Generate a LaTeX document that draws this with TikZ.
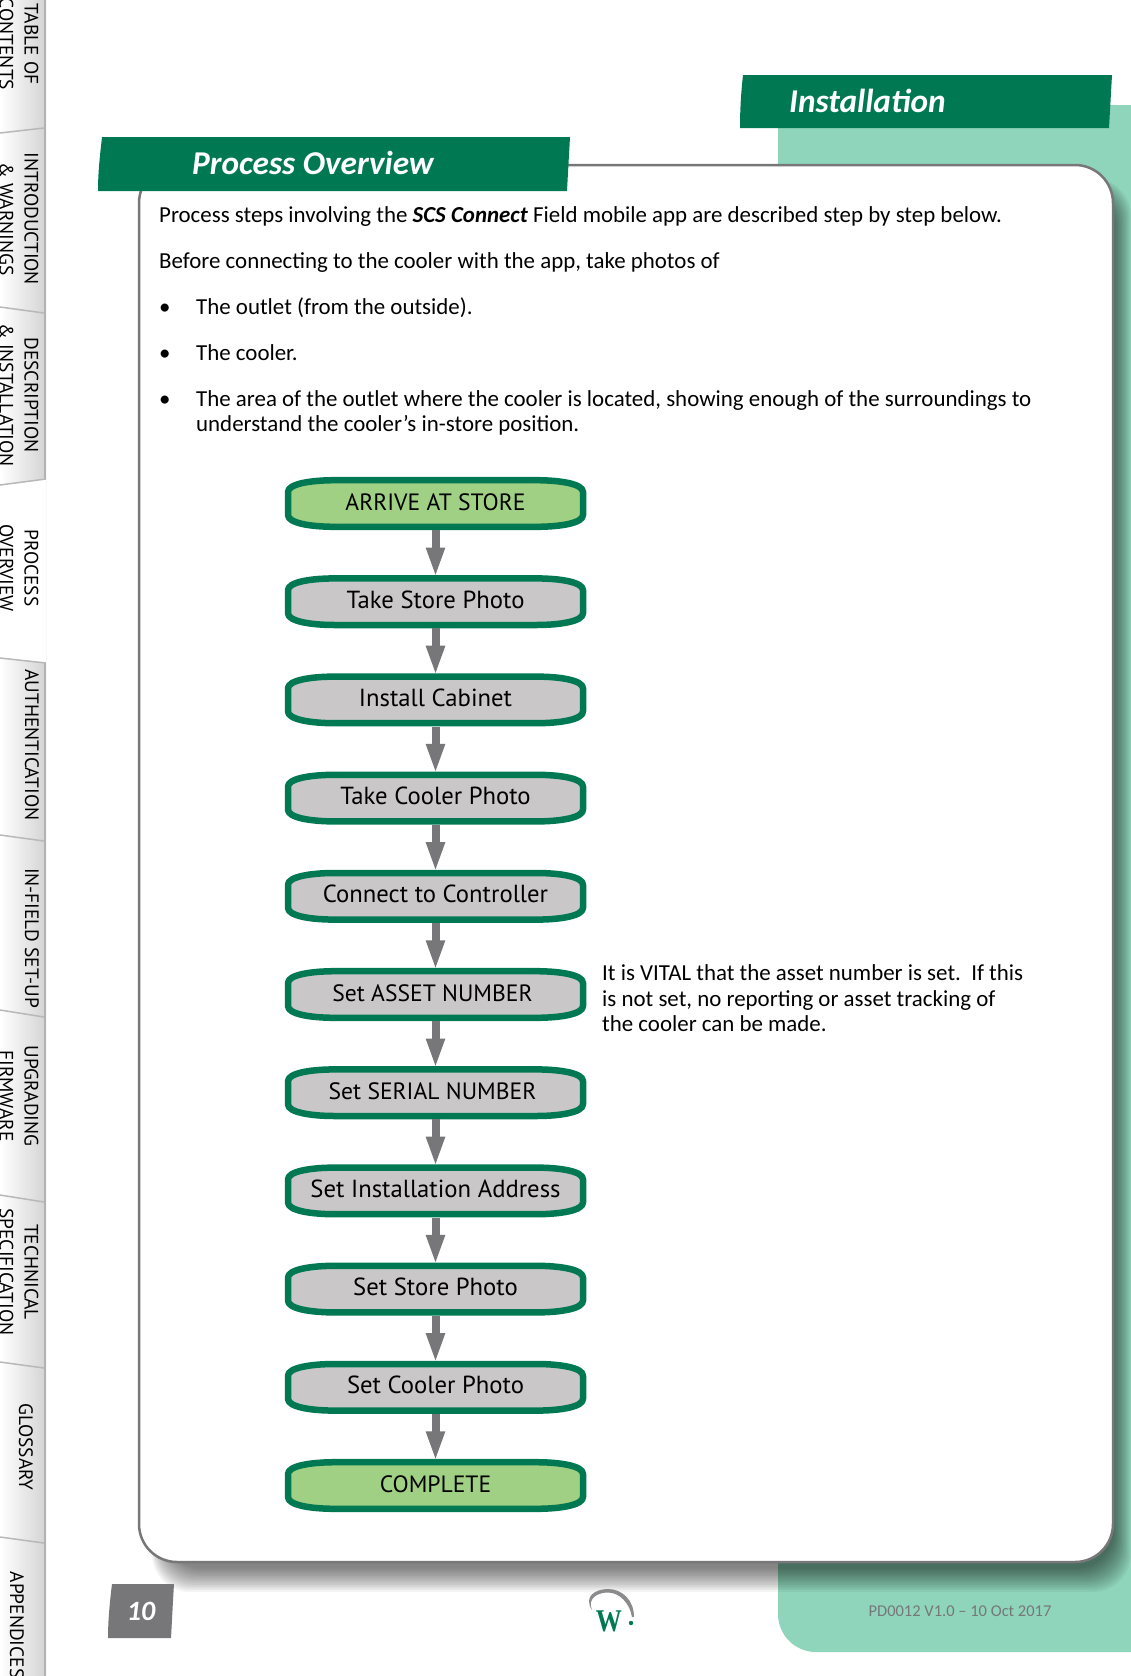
\documentclass[tikz,border=0pt]{standalone}
\usepackage{fontspec}
\setmainfont{Carlito}
\newfontfamily\boxfont{PT Sans}
\usetikzlibrary{arrows.meta}
\definecolor{brandgreen}{HTML}{007953}
\definecolor{mint}{HTML}{8FD5BC}
\definecolor{lightgreen}{HTML}{9FD083}
\definecolor{boxgray}{HTML}{C9C7C8}
\definecolor{linegray}{HTML}{77777A}
\tikzset{
  stepbox/.style={minimum width=301pt,minimum height=53pt,inner sep=0pt,text height=15pt,text depth=2pt,font=\boxfont\fontsize{24.7}{26}\selectfont,text=black},
  capsbox/.style={stepbox,font=\boxfont\fontsize{23.6}{26}\selectfont},
  stepline/.style={draw=brandgreen,line width=6.5pt,line join=round},
  flowarrow/.style={draw=linegray,line width=8pt,shorten >=-2.5pt,-{Triangle[length=30pt,width=17pt]}},
  bodytext/.style={anchor=base west,inner sep=0pt,font=\fontsize{22.9}{26}\selectfont,text=black},
  tabtext/.style={rotate=-90,inner sep=0pt,font=\boxfont\fontsize{19.4}{25}\selectfont,text=black,align=center},
  tabsep/.style={draw=black!28,line width=1.5pt},
}
\newcommand{\stepshape}[2]{% top y, fill
  \path[stepline,fill=#2] (288,#1+15) .. controls (288,#1+7) and (310,#1+3.2) .. (335,#1+3.2)
    -- (536,#1+3.2) .. controls (561,#1+3.2) and (583,#1+7) .. (583,#1+15)
    -- (583,#1+38) .. controls (583,#1+46) and (561,#1+49.8) .. (536,#1+49.8)
    -- (335,#1+49.8) .. controls (310,#1+49.8) and (288,#1+46) .. (288,#1+38) -- cycle;
}
\begin{document}
\begin{tikzpicture}[x=1pt,y=-1pt]
\useasboundingbox (0,0) rectangle (1131,1676);
\fill[white] (0,0) rectangle (1131,1676);
% side strip
\shade[left color=white,right color=black!17] (0,0) rectangle (46,1676);
\fill[white] (0,485) -- (46,479) -- (46,663) -- (0,658) -- cycle;
\draw[black!30,line width=2pt] (45,0) -- (45,479);
\draw[black!30,line width=2pt] (45,663) -- (45,1676);
\draw[tabsep] (0,133) -- (44,128);
\draw[tabsep] (0,307) -- (44,313);
\draw[tabsep] (0,485) -- (46,479);
\draw[tabsep] (0,658) -- (46,663);
\draw[tabsep] (0,835) -- (44,841);
\draw[tabsep] (0,1010) -- (44,1017);
\draw[tabsep] (0,1195) -- (44,1202);
\draw[tabsep] (0,1362) -- (44,1368);
\draw[tabsep] (0,1537) -- (44,1543);
\node[tabtext] (tab1) at (19,44) {TABLE OF\\CONTENTS};
\node[tabtext] (tab2) at (19,219) {INTRODUCTION\\\& WARNINGS};
\node[tabtext] (tab3) at (19,395) {DESCRIPTION\\\& INSTALLATION};
\node[tabtext] (tab4) at (19,568) {PROCESS\\OVERVIEW};
\node[tabtext] (tab5) at (32,745) {AUTHENTICATION};
\node[tabtext] (tab6) at (32,938) {IN-FIELD SET-UP};
\node[tabtext] (tab7) at (19,1096) {UPGRADING\\FIRMWARE};
\node[tabtext] (tab8) at (19,1272) {TECHNICAL\\SPECIFICATION};
\node[tabtext] (tab9) at (26,1447) {GLOSSARY};
\node[tabtext] (tab10) at (17,1625) {APPENDICES};
% mint background
\fill[mint] (778,105) -- (1131,105) -- (1131,1652) -- (816,1652) .. controls (795,1652) and (778,1635) .. (778,1614) -- cycle;
% panel shadow
\foreach \i in {0,...,13}{
  \fill[black,opacity=.045,rounded corners=38pt] (152+\i,178+\i) rectangle (1131-\i*1.3,1592-\i*1.8);
}
\draw[draw=linegray,line width=2.5pt,fill=white,rounded corners=38pt] (139,165) rectangle (1113,1562);
% banners
\fill[brandgreen] (102,137) -- (570,137) .. controls (569,155) and (568,172) .. (567,191) -- (98,191) .. controls (98,172) and (100,155) .. (102,137) -- cycle;
\node[anchor=base west,inner sep=0pt,font=\fontsize{33.3}{36}\selectfont\bfseries\itshape,text=white] (h1) at (192,174) {Process Overview};
\fill[brandgreen] (743,75) -- (1112,75) .. controls (1111,93) and (1110,110) .. (1109,128) -- (740,128) .. controls (740,110) and (741,93) .. (743,75) -- cycle;
\node[anchor=base west,inner sep=0pt,font=\fontsize{33.3}{36}\selectfont\bfseries\itshape,text=white] (h2) at (789,112) {Installation};
% body text
\node[bodytext] (t1) at (159,222) {Process steps involving the \textbf{\textit{SCS Connect}} Field mobile app are described step by step below.};
\node[bodytext] (t2) at (159,268) {Before connecting to the cooler with the app, take photos of};
\node[bodytext] (b1) at (159,314) {•};
\node[bodytext] (t3) at (196,314) {The outlet (from the outside).};
\node[bodytext] (b2) at (159,360) {•};
\node[bodytext] (t4) at (196,360) {The cooler.};
\node[bodytext] (b3) at (159,406) {•};
\node[bodytext] (t5) at (196,406) {The area of the outlet where the cooler is located, showing enough of the surroundings to};
\node[bodytext] (t6) at (196,431) {understand the cooler’s in-store position.};
\node[bodytext] (n1) at (602,980) {It is VITAL that the asset number is set.\ \ If this};
\node[bodytext] (n2) at (602,1006) {is not set, no reporting or asset tracking of};
\node[bodytext] (n3) at (602,1031) {the cooler can be made.};
% flow
\stepshape{477}{lightgreen}
\node[capsbox] (s1) at (435.5,503.5) {ARRIVE AT STORE};
\stepshape{575.2}{boxgray}
\node[stepbox] (s2) at (435.5,601.7) {Take Store Photo};
\stepshape{673.4}{boxgray}
\node[stepbox] (s3) at (435.5,699.9) {Install Cabinet};
\stepshape{771.6}{boxgray}
\node[stepbox] (s4) at (435.5,798.1) {Take Cooler Photo};
\stepshape{869.8}{boxgray}
\node[stepbox] (s5) at (435.5,896.3) {Connect to Controller};
\stepshape{968}{boxgray}
\node[capsbox] (s6) at (435.5,994.5) {\hspace*{-6pt}Set ASSET NUMBER};
\stepshape{1066.2}{boxgray}
\node[capsbox] (s7) at (435.5,1092.7) {\hspace*{-6pt}Set SERIAL NUMBER};
\stepshape{1164.4}{boxgray}
\node[stepbox] (s8) at (435.5,1190.9) {Set Installation Address};
\stepshape{1262.6}{boxgray}
\node[stepbox] (s9) at (435.5,1289.1) {Set Store Photo};
\stepshape{1360.8}{boxgray}
\node[stepbox] (s10) at (435.5,1387.3) {Set Cooler Photo};
\stepshape{1459}{lightgreen}
\node[capsbox] (s11) at (435.5,1485.5) {COMPLETE};
\foreach \a/\b in {s1/s2,s2/s3,s3/s4,s4/s5,s5/s6,s6/s7,s7/s8,s8/s9,s9/s10,s10/s11}{
  \draw[flowarrow] (\a.south) -- (\b.north);
}
% footer
\fill[linegray] (112,1584) -- (174,1584) .. controls (173,1600) and (172,1620) .. (171,1638) -- (108,1638) .. controls (108,1620) and (110,1600) .. (112,1584) -- cycle;
\node[font=\fontsize{28}{30}\selectfont\bfseries\itshape,text=white,inner sep=0pt] (page) at (141,1611) {10};
\node[font=\fontsize{16.5}{20}\selectfont,text=linegray,inner sep=0pt] (foot) at (960,1611) {PD0012 V1.0 – 10 Oct 2017};
% logo
\fill[linegray!85] (592,1610) .. controls (583,1596) and (596,1589) .. (608,1589) .. controls (622,1589) and (634,1600) .. (634,1617) -- (632,1617) .. controls (630,1604) and (620,1592.5) .. (608,1592.5) .. controls (598,1592.5) and (587,1598) .. (592,1610) -- cycle;
\fill[brandgreen] (631,1623) circle[radius=2.2];
\node[text=brandgreen,inner sep=0pt] (logo) at (609,1621.5) {\scalebox{.93}[1.13]{\fontspec{Liberation Serif}\fontsize{28}{28}\selectfont\bfseries W}};
\end{tikzpicture}
\end{document}
